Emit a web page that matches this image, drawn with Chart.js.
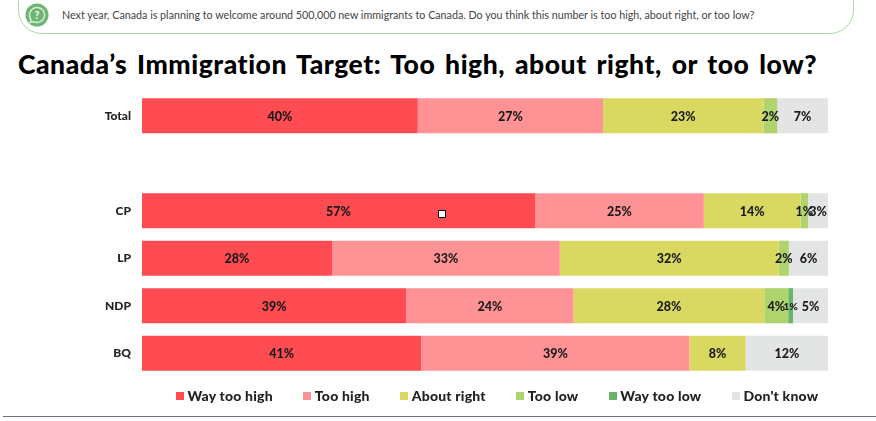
<!DOCTYPE html>
<html>
<head>
<meta charset="utf-8">
<title>Canada's Immigration Target</title>
<script src="https://cdn.jsdelivr.net/npm/chart.js@4"></script>
<style>
  html, body { margin: 0; padding: 0; background: #fff; }
  body { width: 876px; height: 421px; position: relative; overflow: hidden; font-family: Lato, sans-serif; }
  #pill { position: absolute; left: 18px; top: -22px; width: 834px; height: 54px; border: 1px solid #a9d9a6; border-radius: 24px; }
  #icon { position: absolute; left: 25px; top: 3px; }
  #question { position: absolute; left: 62px; top: 8px; font-size: 10.72px; line-height: 14px; color: #444; white-space: nowrap; }
  #title { position: absolute; left: 18px; top: 47px; font-size: 26.5px; line-height: 34px; font-weight: 900; color: #000; white-space: nowrap; letter-spacing: 0.54px; word-spacing: 3px; }
  #chartBox { position: absolute; left: 0; top: 0; width: 876px; height: 421px; }
  #legenda { position: absolute; left: 176px; top: 387px; display: flex; white-space: nowrap; font-size: 14px; line-height: 18px; font-weight: 900; color: #222; letter-spacing: 0.2px; }
  #legenda span { display: flex; align-items: center; margin-right: 30.5px; }
  #legenda i { display: block; width: 8px; height: 8px; margin-right: 3.5px; }
  #handle { position: absolute; left: 438px; top: 210px; width: 6px; height: 6px; background: #fff; border: 1px solid #000; }
  #rule { position: absolute; left: 3px; top: 416px; width: 873px; height: 1px; background: #6d6d82; }
</style>
</head>
<body>
<div id="pill"></div>
<svg id="icon" width="24" height="24" viewBox="0 0 24 24">
  <circle cx="12" cy="12" r="11.5" fill="#6cb573"/>
  <path d="M12 4.5a7.5 7.5 0 1 1-3.7 14L5 19.6l1-3.2A7.5 7.5 0 0 1 12 4.5z" fill="none" stroke="#d6edd6" stroke-width="1.5"/>
  <text x="12" y="15.8" text-anchor="middle" font-family="Lato" font-weight="900" font-size="10.5" fill="#eef8ee">?</text>
</svg>
<div id="question">Next year, Canada is planning to welcome around 500,000 new immigrants to Canada. Do you think this number is too high, about right, or too low?</div>
<div id="title">Canada’s Immigration Target: Too high, about right, or too low?</div>
<div id="chartBox"><canvas id="grafico"></canvas></div>
<div id="legenda"></div>
<div id="handle"></div>
<div id="rule"></div>

<script>
const categorias = ["Total", "", "CP", "LP", "NDP", "BQ"];

const wayTooHigh = [40.2, null, 57.3, 27.7, 38.5, 40.7];
const tooHigh = [27, null, 24.6, 33.2, 24.4, 39.1];
const aboutRight = [23.4, null, 14.1, 31.9, 27.8, 8.2];
const tooLow = [2, null, 1.1, 1.5, 3.5, null];
const wayTooLow = [null, null, null, null, 0.7, null];
const dontKnow = [7.4, null, 2.9, 5.7, 5.1, 12];

// rotulos em cima das barras, chartjs-plugin-datalabels nao esta disponivel
const rotulos = {
  id: "rotulos",
  afterDatasetsDraw(chart) {
    const ctx = chart.ctx;
    ctx.save();
    ctx.textAlign = "center";
    ctx.textBaseline = "middle";
    ctx.fillStyle = "#1a1a1a";
    chart.data.datasets.forEach((ds, i) => {
      chart.getDatasetMeta(i).data.forEach((bar, j) => {
        const v = ds.data[j];
        if (v == null) return;
        ctx.font = (v < 1 ? "900 10px" : "900 12.5px") + " Lato";
        ctx.fillText(Math.round(v) + "%", (bar.base + bar.x) / 2, bar.y + 1);
      });
    });
    ctx.restore();
  },
};

function serie(label, data, cor) {
  return { label: label, data: data, backgroundColor: cor, barPercentage: 0.74, categoryPercentage: 1 };
}

const myChart = new Chart(document.getElementById("grafico").getContext("2d"), {
  type: "bar",
  data: {
    labels: categorias,
    datasets: [
      serie("Way too high", wayTooHigh, "#ff4b52"),
      serie("Too high", tooHigh, "#ff9295"),
      serie("About right", aboutRight, "#d9d962"),
      serie("Too low", tooLow, "#afd46d"),
      serie("Way too low", wayTooLow, "#67b46b"),
      serie("Don't know", dontKnow, "#e3e5e4"),
    ],
  },
  options: {
    indexAxis: "y",
    responsive: true,
    maintainAspectRatio: false,
    animation: false,
    layout: { padding: { top: 92, right: 48, bottom: 44, left: 0 } },
    scales: {
      x: { stacked: true, min: 0, max: 100, display: false },
      y: {
        stacked: true,
        afterFit(scale) { scale.width = 142; },
        grid: { display: false },
        border: { display: false },
        ticks: { color: "#222", padding: 3, font: { family: "Lato", weight: "900", size: 12 } },
      },
    },
    plugins: {
      tooltip: { enabled: false },
      legend: { display: false },
    },
  },
  plugins: [rotulos],
});

// legenda em html, o espacamento da legenda do chart.js nao bate
myChart.data.datasets.forEach((ds) => {
  const item = document.createElement("span");
  const caixa = document.createElement("i");
  caixa.style.background = ds.backgroundColor;
  item.appendChild(caixa);
  item.appendChild(document.createTextNode(ds.label));
  document.getElementById("legenda").appendChild(item);
});
</script>
</body>
</html>
